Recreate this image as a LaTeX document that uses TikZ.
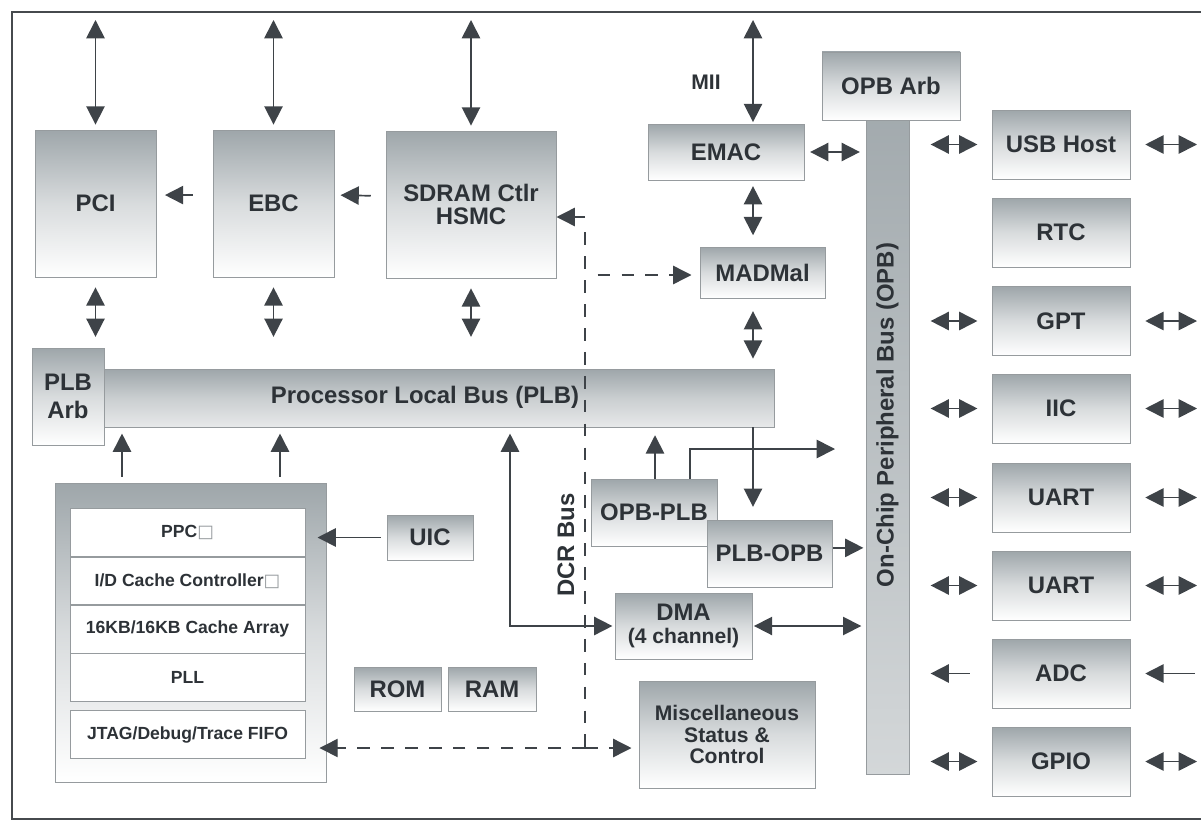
\documentclass[tikz,border=0pt]{standalone}
\usepackage{fontspec}
\setmainfont{Liberation Sans}
\newfontfamily\boxfont{DejaVu Sans}
\usetikzlibrary{positioning,arrows.meta}
\definecolor{boxgray}{RGB}{158,166,170}
\definecolor{boxedge}{RGB}{150,155,158}
\definecolor{arr}{RGB}{62,67,72}
\definecolor{txt}{RGB}{45,50,55}
\definecolor{framec}{RGB}{70,74,78}
\newcommand{\bigtxt}{\fontsize{17}{17}\selectfont\bfseries}
\newcommand{\midtxt}{\fontsize{15}{15}\selectfont\bfseries}
\newcommand{\smalltxt}{\fontsize{12.5}{14}\selectfont\bfseries}
\newcommand{\nobox}{{\boxfont\mdseries\color{boxedge}\fontsize{12.5}{12.5}\selectfont □}}

\begin{document}
\begin{tikzpicture}[x=0.025cm, y=-0.025cm, >={Triangle[length=13pt,width=13pt]},
    sz/.style 2 args={minimum width=#1*0.025cm, minimum height=#2*0.025cm}]
  \tikzstyle{blk} = [draw=boxedge, line width=0.7pt, top color=boxgray, bottom color=white,
  middle color=boxgray!40, text=txt, font=\bigtxt, align=center, inner sep=0pt]
  \tikzstyle{bus} = [draw=boxedge, line width=0.7pt, top color=boxgray, bottom color=boxgray!25,
  middle color=boxgray!55, inner sep=0pt]
  \tikzstyle{vbus} = [draw=boxedge, line width=0.7pt, top color=boxgray!95, bottom color=boxgray!45,
  inner sep=0pt]
  \tikzstyle{row} = [draw=boxedge, line width=0.6pt, fill=white, text=txt, font=\smalltxt,
  sz={235}{47.5}, inner sep=0pt]
  \tikzstyle{dbl} = [<->, line width=1.2pt, color=arr]
  \tikzstyle{sgl} = [->, line width=1.2pt, color=arr]
  \tikzstyle{dcr} = [line width=1pt, color=arr, dash pattern=on 9pt off 8pt]
  \tikzstyle{frame} = [line width=1.6pt, draw=framec]

  \useasboundingbox (0,0) rectangle (1201,821);
  \draw[frame] (1201,12) -- (12,12) -- (12,819) -- (1201,819);

  \coordinate (top) at (0,20);
  \coordinate (rgt) at (1197,0);
  \coordinate (mcol) at (753,0);

  % top row
  \node[blk, sz={121}{147}] (pci) at (95.5,203.5) {PCI};
  \node[blk, sz={121}{147}] (ebc) at (273.5,203.5) {EBC};
  \node[blk, sz={170}{147}] (sdram) at (471,204.5) {SDRAM Ctlr\\HSMC};

  % buses
  \node[blk, sz={72}{97}] (plbarb) at (68,396.5) {PLB\\[3pt]Arb};
  \node[bus, sz={670}{58}] (plb) at (439,398) {};
  \node[font=\bigtxt, text=txt] (plbtxt) at (425,397) {Processor Local Bus (PLB)};

  \node[blk, sz={138}{68}] (opbarb) at (891,86) {OPB Arb};
  \node[vbus, sz={43}{654}] (opb) at (887.5,447) {};
  \node[font=\bigtxt, text=txt, rotate=90] (opbtxt) at (887.5,415) {On-Chip Peripheral Bus (OPB)};

  % ethernet
  \node[font=\midtxt, text=txt] (mii) at (706,82) {MII};
  \node[blk, sz={156}{56}] (emac) at (726,152) {EMAC};
  \node[blk, sz={125}{51}] (madmal) at (762.5,272.5) {MADMal};

  % processor core
  \node[blk, sz={271}{299}] (cpu) at (190.5,632.5) {};
  \node[row] (ppc) at (187.5,532.5) {PPC\nobox};
  \node[row, below=0pt of ppc] (idc) {I/D Cache Controller\nobox};
  \node[row, below=0pt of idc] (arr16) {16KB/16KB Cache Array};
  \node[row, below=0pt of arr16] (pll) {PLL};
  \node[row] (jtag) at (187.5,734.5) {JTAG/Debug/Trace FIFO};

  \node[blk, sz={86}{45}] (uic) at (430,537.5) {UIC};
  \node[blk, sz={87}{44}] (rom) at (397.5,689) {ROM};
  \node[blk, sz={88}{44}] (ram) at (492,689) {RAM};

  % bridges
  \node[blk, sz={126}{67}] (opbplb) at (654,512.5) {OPB-PLB};
  \node[blk, sz={125}{67}] (plbopb) at (769.5,553.5) {PLB-OPB};
  \node[blk, sz={137}{66}] (dma) at (683.5,626) {DMA\\{\midtxt (4 channel)}};
  \node[blk, sz={176}{107}, font=\midtxt] (misc) at (727,734.5) {Miscellaneous\\Status \&\\Control};

  % peripherals
  \node[blk, sz={138}{69}] (usb) at (1061,144.5) {USB Host};
  \node[blk, sz={138}{69}] (rtc) at (1061,232.5) {RTC};
  \node[blk, sz={138}{69}] (gpt) at (1061,321) {GPT};
  \node[blk, sz={138}{69}] (iic) at (1061,408.5) {IIC};
  \node[blk, sz={138}{69}] (uart1) at (1061,497.5) {UART};
  \node[blk, sz={138}{69}] (uart2) at (1061,585.5) {UART};
  \node[blk, sz={138}{69}] (adc) at (1061,673.5) {ADC};
  \node[blk, sz={138}{69}] (gpio) at (1061,761.5) {GPIO};

  % connections
  \draw[dbl, shorten >=3.5pt] (pci.north |- top) -- (pci.north);
  \draw[dbl, shorten >=3.5pt] (ebc.north |- top) -- (ebc.north);
  \draw[dbl, shorten >=3.5pt] (sdram.north |- top) -- (sdram.north);
  \draw[sgl, shorten <=14pt, shorten >=6pt] ([yshift=6pt]ebc.west) -- ([yshift=6pt]pci.east);
  \draw[sgl, shorten <=10.5pt, shorten >=4.3pt] ([yshift=6pt]sdram.west) -- ([yshift=6pt]ebc.east);

  \draw[dbl, shorten <=7pt, shorten >=22.5pt] (pci.south) -- (pci.south |- plb.north);
  \draw[dbl, shorten <=7pt, shorten >=22.5pt] (ebc.south) -- (ebc.south |- plb.north);
  \draw[dbl, shorten <=7pt, shorten >=22.5pt] (sdram.south) -- (sdram.south |- plb.north);

  \draw[dbl, shorten >=1pt] (top -| mcol) -- (emac.north -| mcol);
  \draw[dbl, shorten <=4pt, shorten >=4pt] (emac.east) -- (emac.east -| opb.west);
  \draw[dbl, shorten <=4pt, shorten >=8pt] (emac.south -| mcol) -- (madmal.north -| mcol);
  \draw[dbl, shorten <=9pt, shorten >=7pt] (madmal.south -| mcol) -- (plb.north -| mcol);

  \coordinate (c1) at (122,0);
  \coordinate (c2) at (280,0);
  \draw[sgl, shorten <=4pt, shorten >=4.3pt] (cpu.north -| c1) -- (plb.south -| c1);
  \draw[sgl, shorten <=4pt, shorten >=4.3pt] (cpu.north -| c2) -- (plb.south -| c2);
  \draw[sgl, shorten <=4pt, shorten >=-6.4pt] (uic.west) -- (uic.west -| cpu.east);

  \coordinate (dmaj) at (510,0);
  \draw[dbl, shorten <=4.3pt, shorten >=1.5pt] (dmaj |- plb.south) |- (dma.west);
  \draw[dbl, shorten <=1pt, shorten >=3pt] (dma.east) -- (dma.east -| opb.west);

  \coordinate (q1) at (655,0);
  \coordinate (q2) at (690,0);
  \coordinate (q3) at (835,449);
  \draw[sgl, shorten >=5.5pt] (opbplb.north -| q1) -- (plb.south -| q1);
  \draw[sgl] (opbplb.north -| q2) |- (q3);
  \draw[sgl, shorten >=9pt] (plb.south -| mcol) -- (plbopb.north -| mcol);
  \draw[sgl, shorten >=1.5pt] ([yshift=4pt]plbopb.east) -- ([yshift=4pt]plbopb.east -| opb.west);

  % DCR bus
  \coordinate (dcrT) at (585,217);
  \coordinate (dcrM) at (585,275);
  \coordinate (dcrB) at (585,748);
  \draw[dcr] ([yshift=-11pt]dcrT) -- (dcrB);
  \draw[dcr, ->] (dcrT) -- (dcrT -| sdram.east);
  \draw[dcr, ->, shorten <=9pt, shorten >=5.7pt] (dcrM) -- (dcrM -| madmal.west);
  \draw[dcr, ->, shorten >=-5pt] (dcrB) -- (dcrB -| cpu.east);
  \draw[dcr, ->, shorten >=5pt] (dcrB) -- (dcrB -| misc.west);
  \node[font=\bigtxt, text=txt, rotate=90] (dcrtxt) at (566,545) {DCR Bus};

  % OPB side
  \draw[dbl, shorten <=15pt, shorten >=10pt] (usb.west -| opb.east) -- (usb.west);
  \draw[dbl, shorten <=15pt, shorten >=10pt] (gpt.west -| opb.east) -- (gpt.west);
  \draw[dbl, shorten <=15pt, shorten >=10pt] (iic.west -| opb.east) -- (iic.west);
  \draw[dbl, shorten <=15pt, shorten >=10pt] (uart1.west -| opb.east) -- (uart1.west);
  \draw[dbl, shorten <=15pt, shorten >=10pt] (uart2.west -| opb.east) -- (uart2.west);
  \draw[sgl, shorten <=15.5pt, shorten >=15pt] (adc.west) -- (adc.west -| opb.east);
  \draw[dbl, shorten <=15pt, shorten >=10pt] (gpio.west -| opb.east) -- (gpio.west);

  % outside
  \draw[dbl, shorten <=10.5pt] (usb.east) -- (usb.east -| rgt);
  \draw[dbl, shorten <=10.5pt] (gpt.east) -- (gpt.east -| rgt);
  \draw[dbl, shorten <=10.5pt] (iic.east) -- (iic.east -| rgt);
  \draw[dbl, shorten <=10.5pt] (uart1.east) -- (uart1.east -| rgt);
  \draw[dbl, shorten <=10.5pt] (uart2.east) -- (uart2.east -| rgt);
  \draw[sgl, shorten <=1.5pt, shorten >=10.5pt] (adc.east -| rgt) -- (adc.east);
  \draw[dbl, shorten <=10.5pt] (gpio.east) -- (gpio.east -| rgt);
\end{tikzpicture}
\end{document}
